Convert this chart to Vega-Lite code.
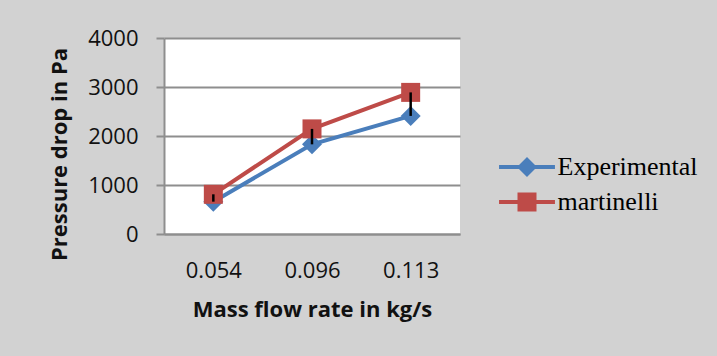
{
  "$schema": "https://vega.github.io/schema/vega-lite/v6.json",
  "width": 296,
  "height": 196,
  "autosize": {"type": "none"},
  "padding": {"left": 164, "top": 38, "right": 257, "bottom": 122},
  "background": "#d2d2d2",
  "config": {
    "view": {"stroke": null, "fill": "white"},
    "font": "Open Sans"
  },
  "data": {
    "values": [
      {"flow": "0.054", "series": "Experimental", "p": 660},
      {"flow": "0.096", "series": "Experimental", "p": 1830},
      {"flow": "0.113", "series": "Experimental", "p": 2410},
      {"flow": "0.054", "series": "martinelli", "p": 810},
      {"flow": "0.096", "series": "martinelli", "p": 2145},
      {"flow": "0.113", "series": "martinelli", "p": 2890}
    ]
  },
  "layer": [
    {
      "mark": {"type": "point", "filled": true, "opacity": 0, "size": 1849, "strokeWidth": 0},
      "encoding": {
        "x": {
          "field": "flow", "type": "ordinal", "sort": null,
          "scale": {"type": "point", "padding": 0.5},
          "axis": {
            "title": "Mass flow rate in kg/s",
            "labelAngle": 0,
            "labelFont": "Open Sans", "labelFontSize": 22, "labelColor": "#111",
            "labelPadding": 26, "ticks": false, "tickSize": 0,
            "domainColor": "#8e8e8e", "domainWidth": 2,
            "titleFont": "Open Sans", "titleFontSize": 22, "titleFontWeight": "bold", "titleColor": "#111",
            "titleY": 65, "titleBaseline": "top"
          }
        },
        "y": {
          "field": "p", "type": "quantitative",
          "scale": {"domain": [0, 4000]},
          "axis": {
            "title": "Pressure drop in Pa",
            "values": [0, 1000, 2000, 3000, 4000],
            "format": "d",
            "labelFont": "Open Sans", "labelFontSize": 22, "labelColor": "#111",
            "labelPadding": 18, "tickSize": 8, "tickColor": "#8e8e8e", "tickWidth": 2,
            "domainColor": "#8e8e8e", "domainWidth": 2,
            "grid": true, "gridColor": "#8e8e8e", "gridWidth": 2,
            "titleFont": "Open Sans", "titleFontSize": 22, "titleFontWeight": "bold", "titleColor": "#111",
            "titleX": -93, "titleY": 116, "titleBaseline": "bottom"
          }
        },
        "color": {
          "field": "series", "type": "nominal",
          "scale": {"domain": ["Experimental", "martinelli"], "range": ["#4a7ebb", "#be4b48"]},
          "legend": {
            "title": null,
            "orient": "none",
            "legendX": 341.5,
            "legendY": 107.5,
            "padding": 0,
            "rowPadding": 0,
            "symbolSize": 1849,
            "symbolOpacity": 1,
            "symbolStrokeWidth": 0,
            "labelOffset": 9,
            "labelFont": "Liberation Serif",
            "labelFontSize": 26,
            "labelColor": "#000",
            "labelLimit": 300
          }
        },
        "shape": {
          "field": "series", "type": "nominal",
          "scale": {
            "domain": ["Experimental", "martinelli"],
            "range": [
              "M-1.3,-0.093H1.3V0.093H-1.3Z M0,-0.465L0.465,0L0,0.465L-0.465,0Z",
              "M-1.3,-0.093H1.3V0.093H-1.3Z M-0.442,-0.442H0.442V0.442H-0.442Z"
            ]
          },
          "legend": {
            "title": null,
            "orient": "none",
            "legendX": 341.5,
            "legendY": 107.5,
            "padding": 0,
            "rowPadding": 0,
            "symbolSize": 1849,
            "symbolOpacity": 1,
            "symbolStrokeWidth": 0,
            "labelOffset": 9,
            "labelFont": "Liberation Serif",
            "labelFontSize": 26,
            "labelColor": "#000",
            "labelLimit": 300
          }
        }
      }
    },
    {
      "mark": {"type": "line", "strokeWidth": 4, "strokeCap": "round"},
      "encoding": {
        "x": {"field": "flow", "type": "ordinal", "sort": null},
        "y": {"field": "p", "type": "quantitative"},
        "color": {"field": "series", "type": "nominal"}
      }
    },
    {
      "transform": [{"filter": "datum.series === 'Experimental'"}],
      "mark": {"type": "point", "shape": "diamond", "filled": true, "opacity": 1, "size": 400, "strokeWidth": 0},
      "encoding": {
        "x": {"field": "flow", "type": "ordinal", "sort": null},
        "y": {"field": "p", "type": "quantitative"},
        "color": {"field": "series", "type": "nominal"}
      }
    },
    {
      "transform": [{"filter": "datum.series === 'martinelli'"}],
      "mark": {"type": "point", "shape": "square", "filled": true, "opacity": 1, "size": 361, "strokeWidth": 0},
      "encoding": {
        "x": {"field": "flow", "type": "ordinal", "sort": null},
        "y": {"field": "p", "type": "quantitative"},
        "color": {"field": "series", "type": "nominal"}
      }
    },
    {
      "transform": [
        {"pivot": "series", "value": "p", "groupby": ["flow"]}
      ],
      "mark": {"type": "rule", "color": "black", "strokeWidth": 2.5},
      "encoding": {
        "x": {"field": "flow", "type": "ordinal", "sort": null},
        "y": {"field": "Experimental", "type": "quantitative"},
        "y2": {"field": "martinelli"}
      }
    }
  ]
}
